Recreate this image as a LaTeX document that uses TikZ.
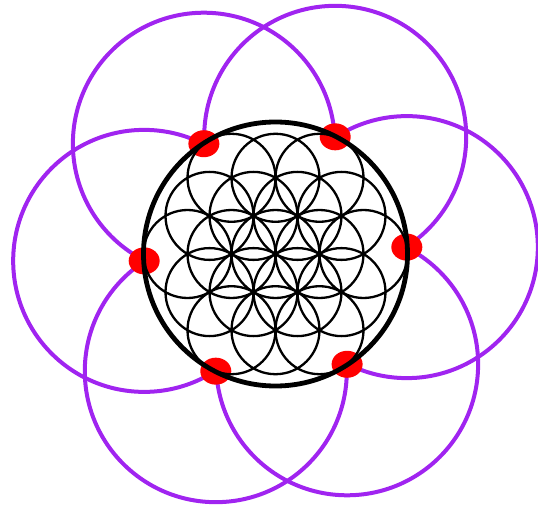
\documentclass[tikz,border=0pt]{standalone}
\definecolor{violetline}{RGB}{160,36,240}
\tikzset{
  outerring/.style={draw=violetline,line width=4pt},
  petal/.style={draw=black,line width=2.3pt},
  rim/.style={draw=black,line width=4.8pt},
  dot/.style={fill=red}
}
\begin{document}
\begin{tikzpicture}[x=1pt,y=1pt]
\useasboundingbox (0,0) rectangle (538,504);
\coordinate (c) at (275.5,250);
\def\R{132}
\def\r{44}
\foreach \k in {0,...,5} {
  \path (c) ++({3+60*\k}:131.5) coordinate (d\k);
}
% purple circles
\foreach \k in {0,...,5} {
  \draw[outerring] (d\k) circle[radius=131];
}
% white interior
\fill[white] (c) circle[radius=\R];
% red dots
\foreach \k in {0,...,5} {
  \fill[dot] (d\k) ellipse[x radius=15.5,y radius=13.5];
}
% flower of life
\draw[petal] (c) circle[radius=\r];
\foreach \a in {0,60,...,300} {
  \draw[petal] (c) ++(\a:\r) circle[radius=\r];
  \draw[petal] (c) ++(\a:2*\r) circle[radius=\r];
  \draw[petal] (c) ++(\a+30:1.7320508*\r) circle[radius=\r];
}
% rim
\draw[rim] (c) circle[radius=\R];
\end{tikzpicture}
\end{document}
